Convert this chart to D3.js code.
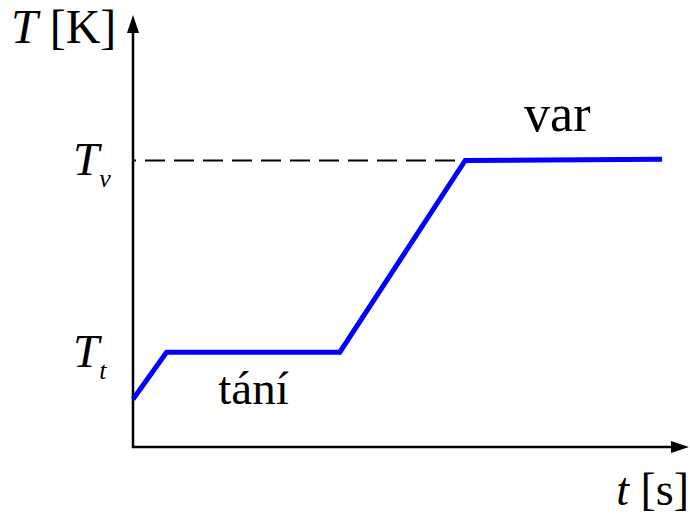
<!DOCTYPE html>
<html>
<head>
<meta charset="utf-8">
<script src="https://cdn.jsdelivr.net/npm/d3@7/dist/d3.min.js"></script>
<style>
  html, body { margin: 0; padding: 0; background: #fff; }
</style>
</head>
<body>
<svg id="chart" width="690" height="514" style="font-family: 'Liberation Serif', 'Times New Roman', serif;"></svg>
<script>
// Data (abstract units: time 0..100, temperature 0..100)
const times = [0, 6.1, 37.6, 60.4, 96.2];
const temps = [11.2, 22.2, 22.2, 67.1, 67.4];
const tickValues = [22.2, 67.1];
const tickLabels = [["T", "t"], ["T", "v"]];
const annotationTexts = ["tání", "var"];
const annotationTimes = [15.5, 71.1];
const annotationTemps = [10.1, 74.1];
const axisLabelY = ["T", " [K]"];
const axisLabelX = ["t", " [s]"];

const svg = d3.select("#chart");
const x = d3.scaleLinear().domain([0, 100]).range([133, 683]);
const y = d3.scaleLinear().domain([0, 100]).range([447, 20]);

// Axes
svg.append("line").attr("x1", x(0)).attr("y1", y(0) + 1).attr("x2", x(0)).attr("y2", 28)
  .attr("stroke", "#000").attr("stroke-width", 2.5);
svg.append("path").attr("d", `M${x(0)},15 L${x(0) - 6},33 L${x(0) + 6},33 Z`).attr("fill", "#000");
svg.append("line").attr("x1", x(0) - 1).attr("y1", y(0)).attr("x2", 678).attr("y2", y(0))
  .attr("stroke", "#000").attr("stroke-width", 2.5);
svg.append("path").attr("d", `M689,${y(0)} L671,${y(0) - 6} L671,${y(0) + 6} Z`).attr("fill", "#000");

// Dashed reference line at Tv
svg.append("line").attr("x1", x(0)).attr("x2", 517).attr("y1", y(tickValues[1])).attr("y2", y(tickValues[1]))
  .attr("stroke", "#000").attr("stroke-width", 2).attr("stroke-dasharray", "20,9").attr("stroke-dashoffset", 17);

// Blue curve
const line = d3.line().x((d, i) => x(times[i])).y((d, i) => y(temps[i]));
svg.append("path").datum(times).attr("d", line)
  .attr("fill", "none").attr("stroke", "#0000ff").attr("stroke-width", 5).attr("stroke-linejoin", "miter");

// Tick labels
tickValues.forEach((v, i) => {
  const t = svg.append("text").attr("x", 73).attr("y", y(v) + 15).attr("font-size", 47);
  t.append("tspan").attr("font-style", "italic").text(tickLabels[i][0]);
  t.append("tspan").attr("font-style", "italic").attr("font-size", 26).attr("dy", 12).text(tickLabels[i][1]);
});

// Annotations
svg.append("text").attr("x", x(annotationTimes[0])).attr("y", y(annotationTemps[0])).attr("font-size", 47).text(annotationTexts[0]);
svg.append("text").attr("x", x(annotationTimes[1])).attr("y", y(annotationTemps[1])).attr("font-size", 52).text(annotationTexts[1]);

// Axis labels
const yl = svg.append("text").attr("x", 11).attr("y", 43).attr("font-size", 48);
yl.append("tspan").attr("font-style", "italic").text(axisLabelY[0]);
yl.append("tspan").text(axisLabelY[1]);
const xl = svg.append("text").attr("x", 689).attr("y", 505).attr("font-size", 46).attr("text-anchor", "end");
xl.append("tspan").attr("font-style", "italic").text(axisLabelX[0]);
xl.append("tspan").text(axisLabelX[1]);
</script>
</body>
</html>
